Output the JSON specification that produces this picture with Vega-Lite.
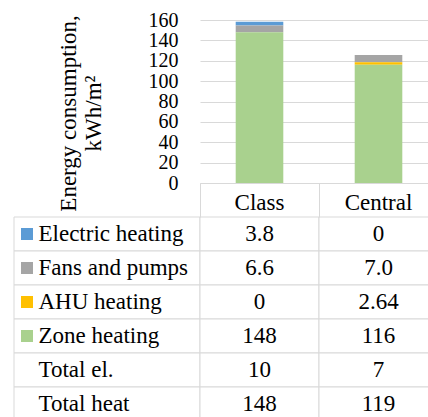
{
  "$schema": "https://vega.github.io/schema/vega-lite/v6.json",
  "padding": {"left": 13, "top": 10, "right": 0, "bottom": 0},
  "config": {
    "font": "Liberation Serif",
    "view": {"stroke": null},
    "axis": {"labelColor": "#000", "titleColor": "#000", "labelFontSize": 23, "titleFontSize": 23, "titleFontWeight": "normal"}
  },
  "datasets": {
    "energy": [
      {"item": "Electric heating", "scheme": "Class", "value": 3.8, "shown": "3.8"},
      {"item": "Electric heating", "scheme": "Central", "value": 0, "shown": "0"},
      {"item": "Fans and pumps", "scheme": "Class", "value": 6.6, "shown": "6.6"},
      {"item": "Fans and pumps", "scheme": "Central", "value": 7.0, "shown": "7.0"},
      {"item": "AHU heating", "scheme": "Class", "value": 0, "shown": "0"},
      {"item": "AHU heating", "scheme": "Central", "value": 2.64, "shown": "2.64"},
      {"item": "Zone heating", "scheme": "Class", "value": 148, "shown": "148"},
      {"item": "Zone heating", "scheme": "Central", "value": 116, "shown": "116"},
      {"item": "Total el.", "scheme": "Class", "value": 10, "shown": "10"},
      {"item": "Total el.", "scheme": "Central", "value": 7, "shown": "7"},
      {"item": "Total heat", "scheme": "Class", "value": 148, "shown": "148"},
      {"item": "Total heat", "scheme": "Central", "value": 119, "shown": "119"}
    ]
  },
  "columns": 2,
  "bounds": "flush",
  "spacing": {"row": 34, "column": 0},
  "concat": [
    {
      "width": 186,
      "height": 163,
      "data": {"values": []},
      "mark": "rect",
      "encoding": {}
    },
    {
      "width": 238,
      "height": 163,
      "data": {"name": "energy"},
      "transform": [
        {"filter": {"field": "item", "oneOf": ["Electric heating", "Fans and pumps", "AHU heating", "Zone heating"]}},
        {"calculate": "indexof(['Zone heating', 'AHU heating', 'Fans and pumps', 'Electric heating'], datum.item)", "as": "stackRank"}
      ],
      "mark": {"type": "bar", "width": {"band": 0.4}},
      "encoding": {
        "x": {
          "field": "scheme",
          "type": "nominal",
          "scale": {"domain": ["Class", "Central"], "paddingInner": 0, "paddingOuter": 0},
          "axis": {"title": null, "domain": true, "domainColor": "#d9d9d9", "domainWidth": 1, "ticks": false, "labelAngle": 0, "labelPadding": 8, "labelBaseline": "top"}
        },
        "y": {
          "field": "value",
          "type": "quantitative",
          "stack": "zero",
          "scale": {"domain": [0, 160], "nice": false},
          "axis": {
            "title": ["Energy consumption,", "kWh/m²"],
            "titleLineHeight": 25,
            "titlePadding": 43,
            "titleAnchor": "middle",
            "titleY": 93,
            "values": [0, 20, 40, 60, 80, 100, 120, 140, 160],
            "labelOverlap": false,
            "labelFontSize": 20,
            "grid": true,
            "gridColor": "#d9d9d9",
            "gridWidth": 1,
            "domain": false,
            "ticks": false,
            "labelPadding": 22
          }
        },
        "color": {
          "field": "item",
          "type": "nominal",
          "sort": ["Electric heating", "Fans and pumps", "AHU heating", "Zone heating"],
          "scale": {"range": ["#5b9bd5", "#a5a5a5", "#ffc000", "#a9d18e"]},
          "legend": {
            "orient": "none",
            "legendX": 7,
            "legendY": 208,
            "title": null,
            "padding": 0,
            "symbolType": "square",
            "symbolSize": 144,
            "symbolStrokeWidth": 0,
            "labelExpr": "''",
            "labelFontSize": 12,
            "clipHeight": 12,
            "rowPadding": 22
          }
        },
        "order": {"field": "stackRank", "type": "quantitative"}
      }
    },
    {
      "width": 186,
      "height": 204,
      "data": {"name": "energy"},
      "transform": [{"filter": {"field": "scheme", "equal": "Class"}}],
      "mark": {"type": "rect", "fill": "#ffffff", "stroke": "#d9d9d9", "strokeWidth": 1},
      "encoding": {
        "y": {
          "field": "item",
          "type": "nominal",
          "sort": ["Electric heating", "Fans and pumps", "AHU heating", "Zone heating", "Total el.", "Total heat"],
          "scale": {"paddingInner": 0, "paddingOuter": 0},
          "axis": null
        }
      }
    },
    {
      "width": 238,
      "height": 204,
      "data": {"name": "energy"},
      "encoding": {
        "x": {
          "field": "scheme",
          "type": "nominal",
          "scale": {"domain": ["Class", "Central"], "paddingInner": 0, "paddingOuter": 0},
          "axis": {"orient": "top", "title": null, "labels": false, "domain": false, "ticks": true, "tickBand": "extent", "tickSize": 34, "tickColor": "#d9d9d9", "tickWidth": 1}
        },
        "y": {
          "field": "item",
          "type": "nominal",
          "sort": ["Electric heating", "Fans and pumps", "AHU heating", "Zone heating", "Total el.", "Total heat"],
          "scale": {"paddingInner": 0, "paddingOuter": 0},
          "axis": {"title": null, "domain": false, "ticks": false, "labelAlign": "left", "labelPadding": 162, "labelLimit": 0}
        }
      },
      "layer": [
        {"mark": {"type": "rect", "fill": "#ffffff", "stroke": "#d9d9d9", "strokeWidth": 1}},
        {"mark": {"type": "text", "fontSize": 23, "color": "#000"}, "encoding": {"text": {"field": "shown"}}}
      ]
    }
  ]
}
